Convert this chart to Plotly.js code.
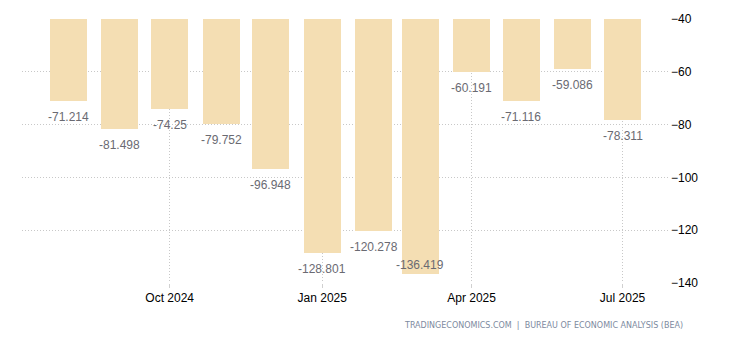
<!DOCTYPE html>
<html>
<head>
<meta charset="utf-8">
<script src="https://cdn.plot.ly/plotly-3.0.1.min.js"></script>
<style>html,body{margin:0;padding:0;background:#fff;}#chart{width:730px;height:340px;}</style>
</head>
<body>
<div id="chart"></div>
<script>
const months = ["2024-08-01","2024-09-01","2024-10-01","2024-11-01","2024-12-01","2025-01-01","2025-02-01","2025-03-01","2025-04-01","2025-05-01","2025-06-01","2025-07-01"];
const values = [-71.214,-81.498,-74.25,-79.752,-96.948,-128.801,-120.278,-136.419,-60.191,-71.116,-59.086,-78.311];
const labels = ["-71.214","-81.498","-74.25","-79.752","-96.948","-128.801","-120.278","-136.419","-60.191","-71.116","-59.086","-78.311"];
const xTickVals = ["2024-10-01","2025-01-01","2025-04-01","2025-07-01"];
const xTickText = ["Oct 2024","Jan 2025","Apr 2025","Jul 2025"];
const yTickVals = [-140,-120,-100,-80,-60,-40];
const sourceText = "TRADINGECONOMICS.COM  |  BUREAU OF ECONOMIC ANALYSIS (BEA)";

const DAY = 86400000;
const trace = {
  type: "bar",
  x: months,
  y: values,
  width: months.map(() => 22.4 * DAY),
  marker: {color: "#F4DEB3"},
  hoverinfo: "none"
};

const annotations = months.map((m, i) => {
  const inside = values[i] < -130;
  return {
    x: m, y: values[i], xref: "x", yref: "y",
    text: labels[i], showarrow: false,
    yanchor: inside ? "bottom" : "top",
    yshift: inside ? 0 : -7,
    font: {family: "Liberation Sans, Arial, sans-serif", size: 12, color: "#6a6a72"}
  };
});
annotations.push({
  xref: "paper", yref: "paper", x: 1.0, y: 0, xanchor: "right", yanchor: "top",
  xshift: 16, yshift: -36,
  text: sourceText, showarrow: false,
  font: {family: "DejaVu Sans, sans-serif", size: 8, color: "#7d8aa0"}
});

const layout = {
  width: 730, height: 340,
  margin: {l: 22, r: 61, t: 19, b: 57},
  paper_bgcolor: "#fff", plot_bgcolor: "#fff",
  showlegend: false,
  bargap: 0,
  xaxis: {
    type: "date",
    range: ["2024-07-04", "2025-07-29"],
    tickvals: xTickVals, ticktext: xTickText,
    showgrid: true, gridcolor: "#c8c8c8", griddash: "1px,2px", gridwidth: 1,
    ticks: "outside", ticklen: 4, tickcolor: "#d0d0d0",
    zeroline: false, showline: false,
    tickfont: {family: "Liberation Sans, Arial, sans-serif", size: 12, color: "#000"}
  },
  yaxis: {
    side: "right",
    range: [-140, -40],
    tickvals: yTickVals,
    showgrid: true, gridcolor: "#c8c8c8", griddash: "1px,2px", gridwidth: 1,
    ticks: "", zeroline: false, showline: false,
    ticklabelstandoff: 1,
    tickfont: {family: "Liberation Sans, Arial, sans-serif", size: 12, color: "#000"}
  },
  annotations: annotations
};

Plotly.newPlot("chart", [trace], layout, {displayModeBar: false, staticPlot: true});
</script>
</body>
</html>
